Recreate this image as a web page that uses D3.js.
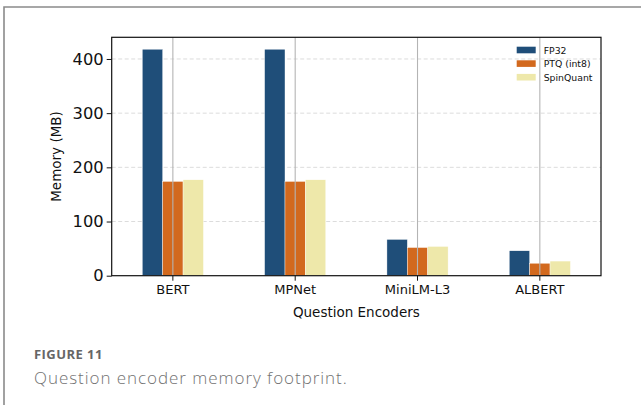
<!DOCTYPE html>
<html>
<head>
<meta charset="utf-8">
<script src="https://cdn.jsdelivr.net/npm/d3@7"></script>
<style>
  html, body { margin: 0; padding: 0; background: #fff; }
  svg { display: block; }
</style>
</head>
<body>
<svg id="chart" width="641" height="405"></svg>
<script>
// Question encoders and memory footprint (MB) per precision
const encoders = ["BERT", "MPNet", "MiniLM-L3", "ALBERT"];
const seriesNames = ["FP32", "PTQ (int8)", "SpinQuant"];
const fp32 = [418, 418, 67, 46];
const ptq = [174, 174, 52, 23];
const spinQuant = [177, 177, 54, 27];
const yTicks = [0, 100, 200, 300, 400];
const colors = ["#1f4e79", "#d2691e", "#eee8aa"];

const series = [fp32, ptq, spinQuant];

const svg = d3.select("#chart");
const plot = { left: 111.7, right: 601, top: 37.3, bottom: 275.7 };

// Figure frame
svg.append("path")
  .attr("d", "M4,410 L4,7 L650,7")
  .attr("fill", "none")
  .attr("stroke", "#8a8a8a")
  .attr("stroke-width", 1.6);

// Scales: one band per encoder, bars occupy half the band
const x = d3.scaleBand().domain(encoders).range([plot.left, plot.right]).padding(0);
const groupW = x.bandwidth() * 0.5;
const xs = d3.scaleBand().domain(seriesNames).range([0, groupW]).padding(0);
const y = d3.scaleLinear().domain([0, 440]).range([plot.bottom, plot.top]);

// Horizontal dashed grid
svg.append("g")
  .selectAll("line")
  .data(yTicks.filter(d => d > 0))
  .join("line")
  .attr("x1", plot.left).attr("x2", plot.right)
  .attr("y1", d => y(d)).attr("y2", d => y(d))
  .attr("stroke", "#dcdcdc")
  .attr("stroke-width", 1)
  .attr("stroke-dasharray", "4,2.5");

// Bars
const groups = svg.append("g")
  .selectAll("g")
  .data(encoders)
  .join("g")
  .attr("transform", d => `translate(${x(d) + x.bandwidth() / 2 - groupW / 2},0)`);

groups.selectAll("rect")
  .data((d, i) => seriesNames.map((s, j) => ({ s, j, v: series[j][i] })))
  .join("rect")
  .attr("x", d => xs(d.s))
  .attr("width", xs.bandwidth())
  .attr("y", d => y(d.v))
  .attr("height", d => y(0) - y(d.v))
  .attr("fill", (d) => colors[d.j])
  .attr("stroke", "#ffffff")
  .attr("stroke-width", 0.4);

// Vertical grid lines at category centres, drawn over bars
svg.append("g")
  .selectAll("line")
  .data(encoders)
  .join("line")
  .attr("x1", d => x(d) + x.bandwidth() / 2)
  .attr("x2", d => x(d) + x.bandwidth() / 2)
  .attr("y1", plot.top).attr("y2", plot.bottom)
  .attr("stroke", "#b4b4b4")
  .attr("stroke-width", 1.1);

// Axes
const yAxis = svg.append("g")
  .attr("transform", `translate(${plot.left},0)`)
  .call(d3.axisLeft(y).tickValues(yTicks).tickSize(5).tickPadding(3).tickSizeOuter(0));
yAxis.select(".domain").remove();
yAxis.selectAll("text")
  .attr("font-family", "DejaVu Sans")
  .attr("font-size", 16.3)
  .attr("fill", "#111");
yAxis.selectAll("line").attr("stroke", "#111").attr("stroke-width", 1);

const xAxis = svg.append("g")
  .attr("transform", `translate(0,${plot.bottom})`)
  .call(d3.axisBottom(x).tickSize(5).tickPadding(4).tickSizeOuter(0));
xAxis.select(".domain").remove();
xAxis.selectAll("text")
  .attr("font-family", "DejaVu Sans")
  .attr("font-size", 13)
  .attr("fill", "#111");
xAxis.selectAll("line").attr("stroke", "#111").attr("stroke-width", 1);

// Plot frame
svg.append("rect")
  .attr("x", plot.left).attr("y", plot.top)
  .attr("width", plot.right - plot.left)
  .attr("height", plot.bottom - plot.top)
  .attr("fill", "none")
  .attr("stroke", "#111")
  .attr("stroke-width", 1.2);

// Axis titles
svg.append("text")
  .attr("transform", `translate(56,${(plot.top + plot.bottom) / 2}) rotate(-90)`)
  .attr("text-anchor", "middle")
  .attr("dominant-baseline", "central")
  .attr("font-family", "DejaVu Sans")
  .attr("font-size", 13.5)
  .attr("fill", "#111")
  .text("Memory (MB)");

svg.append("text")
  .attr("x", (plot.left + plot.right) / 2)
  .attr("y", 312)
  .attr("text-anchor", "middle")
  .attr("dominant-baseline", "central")
  .attr("font-family", "DejaVu Sans")
  .attr("font-size", 13.5)
  .attr("fill", "#111")
  .text("Question Encoders");

// Legend
const legend = svg.append("g").attr("transform", "translate(516.7,50)");
seriesNames.forEach((name, i) => {
  const row = legend.append("g").attr("transform", `translate(0,${i * 13.6})`);
  row.append("rect")
    .attr("x", 0).attr("y", -3.3)
    .attr("width", 19).attr("height", 6.6)
    .attr("fill", colors[i]);
  row.append("text")
    .attr("x", 27).attr("y", 0)
    .attr("dominant-baseline", "central")
    .attr("font-family", "DejaVu Sans")
    .attr("font-size", 9.3)
    .attr("fill", "#111")
    .text(name);
});

// Caption
svg.append("text")
  .attr("x", 34).attr("y", 358.5)
  .attr("font-family", "Open Sans")
  .attr("font-weight", 700)
  .attr("font-size", 13)
  .attr("letter-spacing", 0.45)
  .attr("fill", "#666666")
  .text("FIGURE 11");

svg.append("text")
  .attr("x", 34).attr("y", 383.5)
  .attr("font-family", "Open Sans")
  .attr("font-weight", 300)
  .attr("font-size", 17)
  .attr("letter-spacing", 0.95)
  .attr("fill", "#727272")
  .text("Question encoder memory footprint.");
</script>
</body>
</html>
